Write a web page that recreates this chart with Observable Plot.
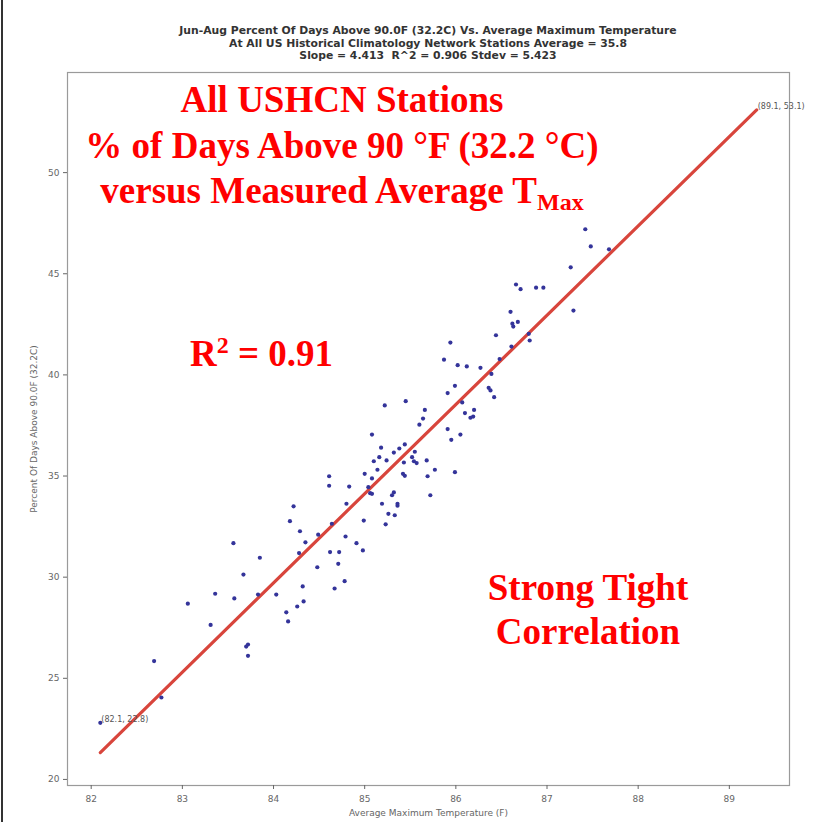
<!DOCTYPE html>
<html>
<head>
<meta charset="utf-8">
<script src="https://cdn.jsdelivr.net/npm/d3@7"></script>
<script src="https://cdn.jsdelivr.net/npm/@observablehq/plot@0.6"></script>
<style>
  html, body { margin: 0; padding: 0; background: #fff; }
  #wrap { position: relative; width: 830px; height: 822px; overflow: hidden; background: #fff; }
  #edge { position: absolute; left: 1px; top: 0; width: 2px; height: 822px; background: #333; }
  .title { position: absolute; left: 78px; width: 700px; top: 25px; text-align: center;
           font-family: "DejaVu Sans", sans-serif; font-weight: bold; font-size: 10.8px;
           line-height: 12.5px; color: #333; white-space: pre; }
  .red { position: absolute; font-family: "Liberation Serif", "Times New Roman", serif;
         font-weight: bold; font-size: 37px; line-height: 37px; color: #f00; white-space: nowrap; }
  .red sub { font-size: 24px; vertical-align: -7px; line-height: 0; }
  .red sup { font-size: 24px; vertical-align: 13px; line-height: 0; }
</style>
</head>
<body>
<div id="wrap"><div id="edge"></div></div>
<script>
// ---- data ----
const avgTmax = [
  82.10, 82.77, 82.69, 83.31, 83.06, 83.36, 83.57, 83.83, 83.67, 83.56,
  83.85, 83.70, 83.72, 83.72, 84.22, 84.80, 84.18, 84.99, 84.29, 84.35,
  84.49, 84.64, 84.79, 84.91, 84.98, 84.62, 84.72, 84.28, 84.71, 84.48,
  84.78, 84.32, 84.67, 84.03, 84.33, 84.26, 84.14, 84.16, 85.99, 85.91,
  86.07, 85.22, 85.45, 85.66, 86.10, 86.20, 86.16, 86.19, 85.64, 85.60,
  85.91, 86.05, 85.95, 85.08, 85.44, 85.38, 85.32, 85.18, 85.55, 85.52,
  85.54, 85.57, 85.16, 85.10, 85.24, 85.68, 85.43, 85.14, 85.00, 85.77,
  85.42, 85.44, 85.99, 85.69, 84.61, 85.08, 84.61, 84.83, 85.04, 85.06,
  85.08, 85.32, 85.30, 85.72, 85.19, 85.36, 85.36, 85.26, 85.33, 85.23,
  86.60, 87.29, 86.62, 86.63, 86.68, 86.44, 86.81, 85.94, 86.61, 86.48,
  85.87, 86.02, 86.12, 86.27, 86.39, 86.36, 86.38, 86.42, 87.42, 87.48,
  87.68, 87.26, 86.66, 86.71, 86.88, 86.96, 86.80
];
const pctAbove90 = [
  22.80, 24.05, 25.85, 27.64, 28.69, 29.18, 28.95, 29.14, 30.13, 31.68,
  30.96, 26.57, 26.67, 26.11, 33.50, 33.63, 32.77, 32.80, 32.27, 31.72,
  32.10, 32.64, 32.01, 31.68, 31.32, 31.24, 31.24, 31.19, 30.66, 30.49,
  29.80, 29.54, 29.44, 29.14, 28.80, 28.55, 28.26, 27.81, 39.46, 39.10,
  38.64, 38.49, 38.70, 38.27, 38.11, 38.27, 37.88, 37.94, 37.84, 37.54,
  37.32, 37.05, 36.79, 37.05, 36.56, 36.36, 36.16, 36.40, 36.20, 35.93,
  35.73, 35.64, 35.93, 35.73, 35.77, 35.77, 35.67, 35.31, 35.11, 35.31,
  35.11, 35.01, 35.19, 34.99, 34.99, 34.88, 34.52, 34.48, 34.45, 34.15,
  34.12, 34.19, 34.05, 34.05, 33.63, 33.63, 33.53, 33.13, 33.06, 32.61,
  43.12, 43.18, 42.53, 42.39, 42.62, 41.96, 41.70, 41.60, 41.40, 40.78,
  40.75, 40.48, 40.42, 40.35, 40.05, 39.36, 39.23, 38.90, 47.20, 46.35,
  46.21, 45.32, 44.47, 44.24, 44.31, 44.31, 42.03
];
const fitX = [82.1, 89.3];
const fitY = [21.33, 53.1];
const endLabelText = ["(82.1, 22.8)", "(89.1, 53.1)"];
const endLabelX = [82.1, 89.3];
const endLabelY = [22.8, 53.1];
const xTicks = [82, 83, 84, 85, 86, 87, 88, 89];
const yTicks = [20, 25, 30, 35, 40, 45, 50];
const titleLines = [
  "Jun-Aug Percent Of Days Above 90.0F (32.2C) Vs. Average Maximum Temperature",
  "At All US Historical Climatology Network Stations Average = 35.8",
  "Slope = 4.413  R^2 = 0.906 Stdev = 5.423"
];
const xLabel = "Average Maximum Temperature (F)";
const yLabel = "Percent Of Days Above 90.0F (32.2C)";

// ---- build ----
const pts = avgTmax.map((x, i) => ({x, y: pctAbove90[i]}));
const fit = fitX.map((x, i) => ({x, y: fitY[i]}));
const ends = endLabelText.map((t, i) => ({x: endLabelX[i], y: endLabelY[i], t}));

const chart = Plot.plot({
  width: 830,
  height: 822,
  marginLeft: 67,
  marginRight: 41,
  marginTop: 72,
  marginBottom: 37,
  style: {fontFamily: "DejaVu Sans, sans-serif", background: "transparent", overflow: "visible"},
  x: {domain: [81.74, 89.66]},
  y: {domain: [19.7, 54.95]},
  marks: [
    Plot.frame({stroke: "#9a9a9a", strokeWidth: 1.2}),
    Plot.axisX({ticks: xTicks, tickSize: 4, tickPadding: 6, fontSize: 9, color: "#666",
      label: xLabel, labelAnchor: "center", labelArrow: "none", labelOffset: 30}),
    Plot.axisY({ticks: yTicks, tickSize: 4, tickPadding: 4, fontSize: 9, color: "#666",
      label: yLabel, labelAnchor: "center", labelArrow: "none", labelOffset: 37}),
    Plot.line(fit, {x: "x", y: "y", stroke: "#d8453c", strokeWidth: 3.2}),
    Plot.dot(pts, {x: "x", y: "y", r: 2.1, fill: "#34349a", stroke: "none"}),
    Plot.text(ends, {x: "x", y: "y", text: "t", textAnchor: "start", dx: 1, dy: -3,
      fontSize: 8, fill: "#555"})
  ]
});

const wrap = document.getElementById("wrap");
wrap.appendChild(chart);
chart.style.position = "absolute";
chart.style.left = "0px";
chart.style.top = "0px";

const t = document.createElement("div");
t.className = "title";
t.textContent = titleLines.join("\n");
wrap.appendChild(t);

// red overlay annotations
const redNotes = [
  {html: "All USHCN Stations", left: 42, top: 81, width: 600, align: "center"},
  {html: "% of Days Above 90 °F (32.2 °C)", left: 42, top: 127, width: 600, align: "center"},
  {html: "versus Measured Average T<sub>Max</sub>", left: 42, top: 172, width: 600, align: "center"},
  {html: "R<sup>2</sup> = 0.91", left: 190, top: 335, width: 300, align: "left"},
  {html: "Strong Tight", left: 388, top: 569, width: 400, align: "center"},
  {html: "Correlation", left: 388, top: 613, width: 400, align: "center"}
];
for (const n of redNotes) {
  const d = document.createElement("div");
  d.className = "red";
  d.style.left = n.left + "px";
  d.style.top = n.top + "px";
  d.style.width = n.width + "px";
  d.style.textAlign = n.align;
  d.innerHTML = n.html;
  wrap.appendChild(d);
}
</script>
</body>
</html>
